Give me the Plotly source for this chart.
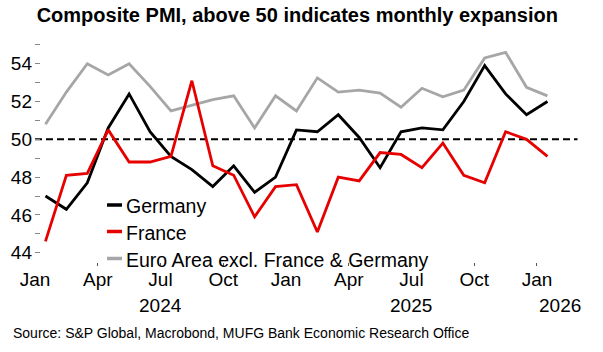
import plotly.graph_objects as go

# ---- data ----
months = ["2024-01","2024-02","2024-03","2024-04","2024-05","2024-06","2024-07","2024-08",
          "2024-09","2024-10","2024-11","2024-12","2025-01","2025-02","2025-03","2025-04",
          "2025-05","2025-06","2025-07","2025-08","2025-09","2025-10","2025-11","2025-12","2026-01"]
germany = [47.0, 46.3, 47.7, 50.6, 52.4, 50.4, 49.1, 48.4, 47.5, 48.6, 47.2, 48.0,
           50.5, 50.4, 51.3, 50.1, 48.5, 50.4, 50.6, 50.5, 52.0, 53.9, 52.4, 51.3, 52.0]
france = [44.6, 48.1, 48.2, 50.5, 48.8, 48.8, 49.1, 53.1, 48.6, 48.1, 45.9, 47.5,
          47.6, 45.1, 48.0, 47.8, 49.3, 49.2, 48.5, 49.8, 48.1, 47.7, 50.4, 50.0, 49.1]
euro_ex = [50.8, 52.5, 54.0, 53.4, 54.0, 52.8, 51.5, 51.8, 52.1, 52.3, 50.6, 52.3,
           51.5, 53.25, 52.5, 52.6, 52.45, 51.7, 52.7, 52.25, 52.6, 54.3, 54.6, 52.75, 52.3]
series_names = ["Germany", "France", "Euro Area excl. France & Germany"]
series_colors = ["#000000", "#e60000", "#a6a6a6"]
tick_labels = ["Jan", "Apr", "Jul", "Oct", "Jan", "Apr", "Jul", "Oct", "Jan"]
years = ["2024", "2025", "2026"]
threshold = 50

x = list(range(len(months)))
FONT = "Liberation Sans, Arial, sans-serif"

fig = go.Figure()
for name, vals, col in zip(series_names, [germany, france, euro_ex], series_colors):
    fig.add_trace(go.Scatter(x=x, y=vals, mode="lines", name=name,
                             line=dict(color=col, width=2.8), showlegend=False))

# draw order: grey behind
fig.data = (fig.data[2], fig.data[0], fig.data[1])

fig.add_shape(type="line", xref="paper", yref="y", x0=0, x1=0.99, y0=threshold, y1=threshold,
              line=dict(color="black", width=2, dash="7px,4px"), layer="below")

x_range = [-0.5, 25.7]
tickvals = [-0.5 + 3 * i for i in range(len(tick_labels))]

fig.update_layout(
    width=603, height=352,
    margin=dict(l=35, r=20, t=41, b=86),
    paper_bgcolor="white", plot_bgcolor="white",
    font=dict(family=FONT, color="black", size=19),
    title=dict(text="<b>Composite PMI, above 50 indicates monthly expansion</b>",
               x=0.493, xanchor="center", yref="container", y=0.978, yanchor="top",
               font=dict(size=20, family=FONT, color="black")),
    xaxis=dict(range=x_range, tickvals=tickvals, ticktext=tick_labels,
               ticks="inside", ticklen=3, tickcolor="#555", tickwidth=1,
               showgrid=False, zeroline=False, showline=False,
               tickfont=dict(size=19)),
    yaxis=dict(range=[43.3, 55.2], tickvals=[44, 46, 48, 50, 52, 54],
               ticks="inside", ticklen=5, tickcolor="#888", tickwidth=1,
               minor=dict(dtick=1, tick0=0, ticks="inside", ticklen=5, tickcolor="#888"),
               showgrid=False, zeroline=False, showline=False,
               tickfont=dict(size=19), ticklabelstandoff=2),
)

# year labels centred on each year's span within the axis range
year_starts = [-0.5, 11.5, 23.5]
for yr, s in zip(years, year_starts):
    e = min(s + 12, x_range[1])
    fig.add_annotation(x=(s + e) / 2, xref="x", y=-0.175, yref="paper", text=yr,
                       showarrow=False, font=dict(size=19), xanchor="center", yanchor="middle")

# manual legend
PW, PH = 548.0, 225.0
def px_to_paper(px, py):
    return (px - 35) / PW, (266 - py) / PH

leg_y = [205, 231.5, 258.5]
for name, col, py in zip(series_names, series_colors, leg_y):
    x0, yy = px_to_paper(107, py)
    x1, _ = px_to_paper(122, py)
    fig.add_shape(type="line", xref="paper", yref="paper", x0=x0, x1=x1, y0=yy, y1=yy,
                  line=dict(color=col, width=3.5))
    tx, ty = px_to_paper(124, py + 1)
    fig.add_annotation(x=tx, y=ty, xref="paper", yref="paper", text=name, showarrow=False,
                       xanchor="left", yanchor="middle", font=dict(size=19.5))

sx, sy = px_to_paper(11, 333)
fig.add_annotation(x=sx, xref="paper", y=sy, yref="paper",
                   text="Source: S&P Global, Macrobond, MUFG Bank Economic Research Office",
                   showarrow=False, xanchor="left", yanchor="middle",
                   font=dict(size=14))

fig.write_html("out.html")
